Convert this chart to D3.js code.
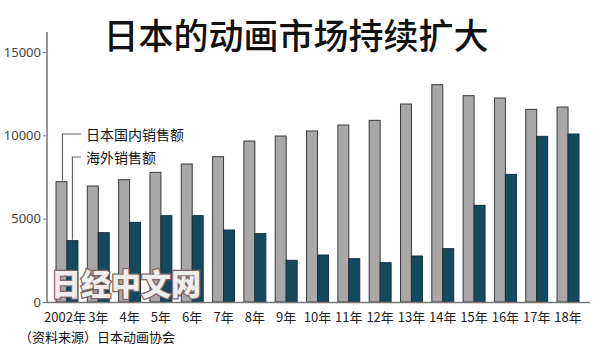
<!doctype html>
<html>
  <head>
    <meta charset="utf-8">
    <script src="https://cdnjs.cloudflare.com/ajax/libs/d3/7.8.5/d3.min.js"></script>
    <style>
      body { margin: 0; background: #fff; }
      text { font-family: "Noto Sans CJK SC", "Noto Sans", sans-serif; }
    </style>
  </head>
  <body>
    <svg id="chart" width="600" height="353"></svg>
    <script>
        // values in 亿日元
        var years = ["2002年", "3年", "4年", "5年", "6年", "7年", "8年", "9年", "10年",
                     "11年", "12年", "13年", "14年", "15年", "16年", "17年", "18年"];
        var domestic = [7220, 6960, 7340, 7780, 8280, 8720, 9660, 9960, 10260,
                        10620, 10900, 11880, 13040, 12380, 12240, 11560, 11700];
        var overseas = [3680, 4160, 4780, 5180, 5180, 4320, 4100, 2500, 2820,
                        2600, 2360, 2760, 3200, 5800, 7660, 9940, 10080];
        var yTicks = [0, 5000, 10000, 15000];

        var svg = d3.select("#chart");

        var xScale = d3.scaleBand().domain(years).range([56, 579]).paddingInner(0.3).paddingOuter(0);
        var yScale = d3.scaleLinear().domain([0, 15000]).range([302, 52]);

        // title
        svg.append("text")
            .attr("x", 296).attr("y", 33)
            .attr("text-anchor", "middle")
            .attr("dominant-baseline", "central")
            .style("font-size", "35px")
            .style("font-weight", 500)
            .style("fill", "#111")
            .text("日本的动画市场持续扩大");

        // y axis
        var yAxis = d3.axisLeft(yScale).tickValues(yTicks).tickFormat(d3.format("d")).tickSize(4).tickPadding(2);
        var yG = svg.append("g").attr("transform", "translate(47,0)").call(yAxis);
        yG.select(".domain").attr("d", "M0,32V303").style("stroke", "#777").style("stroke-width", 1.5);
        yG.selectAll(".tick line").style("stroke", "#777");
        yG.selectAll(".tick text").style("font-size", "13px").style("fill", "#444")
            .style("font-family", "'Liberation Sans Narrow', 'Noto Sans', sans-serif");

        var half = xScale.bandwidth() / 2;

        svg.append("g").selectAll("rect").data(domestic).enter().append("rect")
            .attr("x", (d, i) => xScale(years[i]))
            .attr("y", d => yScale(d))
            .attr("width", half)
            .attr("height", d => yScale(0) - yScale(d))
            .style("fill", "#a9a7a7")
            .style("stroke", "#3a3a3a")
            .style("stroke-width", 1);

        svg.append("g").selectAll("rect").data(overseas).enter().append("rect")
            .attr("x", (d, i) => xScale(years[i]) + half)
            .attr("y", d => yScale(d))
            .attr("width", half)
            .attr("height", d => yScale(0) - yScale(d))
            .style("fill", "#134a60")
            .style("stroke", "#1b2f38")
            .style("stroke-width", 1);

        // baseline
        svg.append("line")
            .attr("x1", 47).attr("x2", 590)
            .attr("y1", yScale(0) + 0.5).attr("y2", yScale(0) + 0.5)
            .style("stroke", "#777").style("stroke-width", 1.5);

        // x labels
        svg.append("g").selectAll("text").data(years).enter().append("text")
            .attr("x", d => xScale(d) + xScale.bandwidth() / 2 - (d == "2002年" ? 2 : 0))
            .attr("y", 316)
            .attr("text-anchor", "middle")
            .attr("dominant-baseline", "central")
            .style("font-size", "13px")
            .style("fill", "#222")
            .text(d => d);

        // legend leaders
        var legend = [
            {label: "日本国内销售额", value: domestic[0], x: xScale(years[0]) + half / 2 + 1, y: 134},
            {label: "海外销售额", value: overseas[0], x: xScale(years[0]) + half * 1.5, y: 157}
        ];
        legend.forEach(function(l) {
            svg.append("path")
                .attr("d", "M" + l.x + "," + (yScale(l.value) - 1) + "V" + l.y + "H81")
                .style("fill", "none").style("stroke", "#666").style("stroke-width", 1.2);
            svg.append("text")
                .attr("x", 86).attr("y", l.y)
                .attr("dominant-baseline", "central")
                .style("font-size", "14px")
                .style("fill", "#111")
                .text(l.label);
        });

        // watermark
        svg.append("text")
            .attr("x", 126).attr("y", 282)
            .attr("text-anchor", "middle")
            .attr("dominant-baseline", "central")
            .style("font-size", "30px")
            .style("font-weight", 900)
            .style("fill", "#eeeeee")
            .style("stroke", "#7d6464")
            .style("stroke-width", 2.5)
            .style("paint-order", "stroke")
            .text("日经中文网");

        // source
        svg.append("text")
            .attr("x", 19).attr("y", 336)
            .attr("dominant-baseline", "central")
            .style("font-size", "13px")
            .style("fill", "#111")
            .text("（资料来源）日本动画协会");
    </script>
  </body>
</html>
